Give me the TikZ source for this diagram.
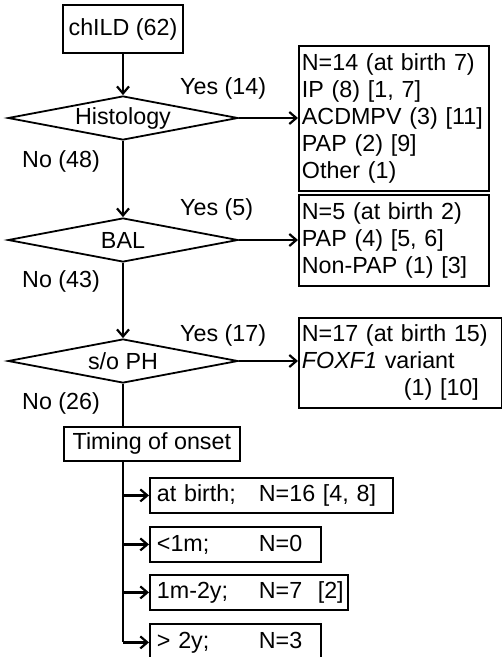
\documentclass[tikz,border=0pt]{standalone}
\usepackage{fontspec}
\setmainfont{Liberation Sans}
\usetikzlibrary{shapes.geometric,arrows.meta}
\begin{document}
\begin{tikzpicture}[x=1pt,y=-1pt,
  every node/.style={font=\fontsize{23.3}{27}\selectfont},
  box/.style={draw,line width=1.8pt,inner sep=0pt},
  rbox/.style={box,anchor=north west,align=left,inner xsep=3pt},
  tbox/.style={box,anchor=north west,align=left,inner xsep=7pt,minimum height=35pt},
  dia/.style={draw,shape=diamond,aspect=5.2,line width=1.8pt,inner sep=0pt,minimum width=230pt,minimum height=44pt},
  conn/.style={line width=2.2pt},
  arr/.style={conn,-{Straight Barb[length=7pt,width=12pt,line width=2.2pt]}},
  lab/.style={inner sep=0pt,anchor=west},
]
\useasboundingbox (0,0) rectangle (502,657);
\node[box,minimum width=120pt,minimum height=48pt] (child) at (123,29) {chILD (62)};
\node[dia] (hist) at (123,118) {Histology};
\node[dia] (bal) at (123,240) {BAL};
\node[dia] (soph) at (123,361) {s/o PH};

\node[rbox,text width=184pt,minimum height=145pt] (r1) at (298,45)
  {N=14 (at birth 7)\\IP (8) [1, 7]\\ACDMPV (3) [11]\\PAP (2) [9]\\Other (1)};
\node[rbox,text width=184pt,minimum height=91pt] (r2) at (298,194)
  {N=5 (at birth 2)\\PAP (4) [5, 6]\\Non-PAP (1) [3]};
\node[rbox,text width=197pt,minimum height=90pt] (r3) at (298,317)
  {N=17 (at birth 15)\\\textit{FOXF1} variant\\\hspace*{\fill}(1) [10]\hspace*{20pt}\mbox{}};

\node[box,anchor=north west,minimum width=176pt,minimum height=34pt] (tim) at (63,426) {Timing of onset};

\node[tbox,text width=229pt] (t1) at (149,477) {\mbox{\makebox[102pt][l]{at birth;}N=16 [4, 8]}};
\node[tbox,text width=157pt] (t2) at (149,526) {\mbox{\makebox[102pt][l]{<1m;}N=0}};
\node[tbox,text width=184pt] (t3) at (149,574) {\mbox{\makebox[102pt][l]{1m-2y;}N=7\ \ [2]}};
\node[tbox,text width=157pt,minimum height=37pt] (t4) at (149,623) {\mbox{\makebox[102pt][l]{> 2y;}N=3}};

\node[lab] (y14) at (180,88) {Yes (14)};
\node[lab] (n48) at (22,161) {No (48)};
\node[lab] (y5) at (180,209) {Yes (5)};
\node[lab] (n43) at (22,281) {No (43)};
\node[lab] (y17) at (180,335) {Yes (17)};
\node[lab] (n26) at (22,403) {No (26)};

\draw[arr] (child) -- (hist);
\draw[arr] (hist) -- (bal);
\draw[arr] (bal) -- (soph);
\draw[arr] (hist.east) -- (hist.east -| r1.west);
\draw[arr] (bal.east) -- (bal.east -| r2.west);
\draw[arr] (soph.east) -- (soph.east -| r3.west);
\draw[conn] (soph.south) -- (soph.south |- tim.north);
\draw[conn] (soph.south |- tim.south) -- (soph.south |- t4.west);
\draw[arr] (soph.south |- t1.west) -- (t1.west);
\draw[arr] (soph.south |- t2.west) -- (t2.west);
\draw[arr] (soph.south |- t3.west) -- (t3.west);
\draw[arr] (soph.south |- t4.west) -- (t4.west);
\end{tikzpicture}
\end{document}
